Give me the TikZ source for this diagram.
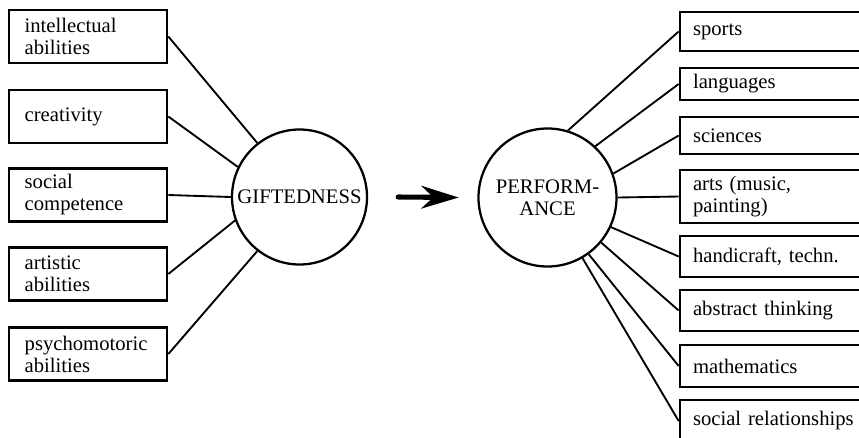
\documentclass[tikz,border=0pt]{standalone}
\usepackage{fontspec}
\setmainfont{Liberation Serif}
\usepackage{tikz}
\usetikzlibrary{arrows.meta}

\begin{document}
\begin{tikzpicture}[x=0.75pt, y=-0.75pt,
  txt/.style={font=\fontsize{15.5}{16.5}\selectfont},
  lbox/.style={txt, draw, line width=2pt, align=left, text width=95pt, inner xsep=11.75pt, inner ysep=2pt, minimum height=39.75pt},
  rbox/.style={txt, draw, line width=2pt, align=left, text width=126.75pt, inner xsep=9.75pt, inner ysep=2pt},
  ball/.style={txt, draw, circle, line width=1.7pt, align=center, inner sep=0pt},
  spoke/.style={line width=1.4pt}]
  \useasboundingbox (0,0) rectangle (859,437);
  \clip (0,0) rectangle (859,437);
  \node[ball, minimum size=101.25pt] (gift) at (299.5,197) {GIFTEDNESS};
  \node[ball, minimum size=103.5pt] (perf) at (547.5,197.5) {PERFORM-\\ANCE};
  \node[lbox] (intel) at (88,36.5) {intellectual\\abilities};
  \node[lbox] (creat) at (88,116.5) {creativity};
  \node[lbox] (social) at (88,195) {social\\competence};
  \node[lbox] (artist) at (88,274) {artistic\\abilities};
  \node[lbox] (psycho) at (88,354) {psychomotoric\\abilities};
  \node[rbox, minimum height=29.25pt] (sports) at (777.5,31.5) {sports};
  \node[rbox, minimum height=24pt] (lang) at (777.5,84) {languages};
  \node[rbox, minimum height=27.75pt] (sci) at (777.5,135.5) {sciences};
  \node[rbox, minimum height=39.75pt] (arts) at (777.5,196.5) {arts (music,\\painting)};
  \node[rbox, minimum height=30.75pt] (hand) at (777.5,256.5) {handicraft, techn.};
  \node[rbox, minimum height=30.75pt] (abstr) at (777.5,310.5) {abstract thinking};
  \node[rbox, minimum height=31.5pt] (math) at (777.5,366) {mathematics};
  \node[rbox, minimum height=31.5pt] (rel) at (777.5,421) {social relationships};
  \draw[spoke] (intel.east) -- (gift.128);
  \draw[spoke] (creat.east) -- (gift.154);
  \draw[spoke] (social.east) -- (gift.180);
  \draw[spoke] (artist.east) -- (gift.200);
  \draw[spoke] (psycho.east) -- (gift.232);
  \draw[spoke] (perf.73) -- (sports.west);
  \draw[spoke] (perf.47) -- (lang.west);
  \draw[spoke] (perf.20) -- (sci.west);
  \draw[spoke] (perf.0) -- (arts.west);
  \draw[spoke] (perf.-25) -- (hand.west);
  \draw[spoke] (perf.-40) -- (abstr.west);
  \draw[spoke] (perf.-54) -- (math.west);
  \draw[spoke] (perf.-60) -- (rel.west);
  \draw[line width=3.8pt, line cap=round, -{Stealth[length=28pt, width=17pt, inset=9pt]}] ([xshift=22.5pt]gift.east) -- ([xshift=-14pt]perf.west);
\end{tikzpicture}
\end{document}
